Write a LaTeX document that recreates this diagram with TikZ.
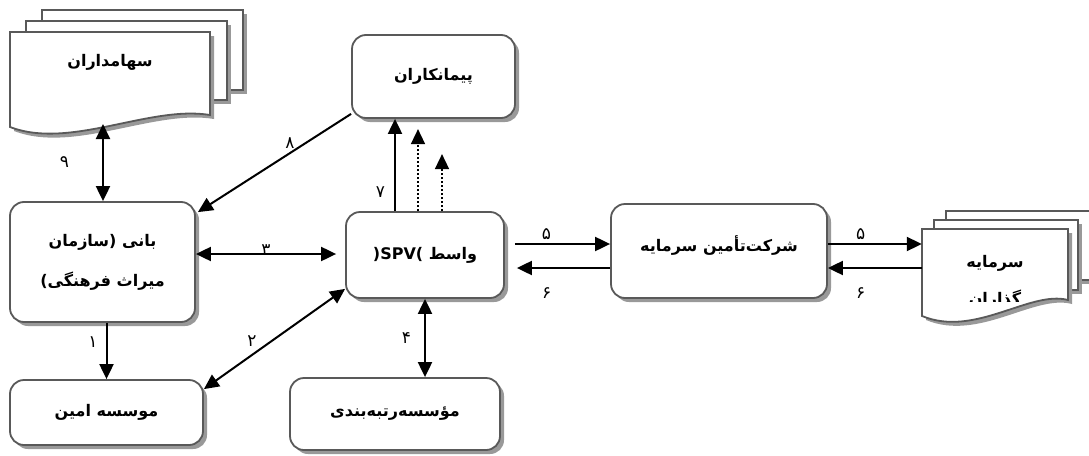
\documentclass[tikz,border=0pt]{standalone}
\usepackage{fontspec}
\newfontfamily\fa[Script=Arabic]{DejaVu Sans}
\TeXXeTstate=1
\usetikzlibrary{arrows.meta,positioning,calc,shadows}
\newcommand{\rtltext}[1]{\beginR #1\endR}

\begin{document}
\begin{tikzpicture}[
    x=1pt, y=-1pt,
    font=\fa,
    box/.style={draw=black!65, line width=1.8pt, rounded corners=14pt, fill=white,
      drop shadow={shadow xshift=4pt, shadow yshift=-4pt, fill=black!40, opacity=1},
      align=center, font=\fa\bfseries\fontsize{16}{40}\selectfont},
    page/.style={draw=black!65, line width=1.8pt, fill=white,
      drop shadow={shadow xshift=4pt, shadow yshift=-4pt, fill=black!40, opacity=1}},
    doc/.style={align=center, font=\fa\bfseries\fontsize{16}{37}\selectfont},
    arr/.style={-{Triangle[length=15pt,width=14pt]}, line width=2pt},
    darr/.style={{Triangle[length=15pt,width=14pt]}-{Triangle[length=15pt,width=14pt]}, line width=2pt},
    dotarr/.style={arr, dotted, line width=1.6pt},
    num/.style={font=\fa\fontsize{17}{18}\selectfont, inner sep=1pt}
  ]
  \useasboundingbox (0,0) rectangle (1089,455);

  % shareholders (stack of documents)
  \draw[page] (42,10) rectangle (243,90);
  \draw[page] (26,21) rectangle (227,100);
  \draw[page] (10,32) -- (210,32) -- (210,115) .. controls (150,105) and (70,150) .. (10,127) -- cycle;
  \node[doc, minimum width=200pt, minimum height=60pt] (share) at (110,62) {\rtltext{سهامداران}};
  \coordinate (sharebot) at (103,124);

  % investors (stack of documents)
  \draw[page] (946,211) rectangle (1100,280);
  \draw[page] (934,220) rectangle (1078,290);
  \draw[page] (922,229) -- (1068,229) -- (1068,300) .. controls (1030,290) and (975,338) .. (922,316) -- cycle;
  \begin{scope}
    \clip (922,229) rectangle (1068,301);
    \node[doc, minimum width=146pt] (inv) at (995,282) {\rtltext{سرمایه}\\\rtltext{گذاران}};
  \end{scope}

  % boxes
  \node[box, minimum width=185pt, minimum height=120pt] (bani) at (102.5,262) {\rtltext{بانی (سازمان}\\\rtltext{میراث فرهنگی)}};
  \node[box, minimum width=193pt, minimum height=65pt] (amin) at (106.5,412.5) {\rtltext{موسسه امین}};
  \node[box, minimum width=163pt, minimum height=83pt] (payman) at (433.5,76.5) {\rtltext{پیمانکاران}};
  \node[box, minimum width=158pt, minimum height=86pt] (spv) at (425,255) {\rtltext{واسط \beginL)SPV(\endL}};
  \node[box, minimum width=210pt, minimum height=72pt] (rating) at (395,414) {\rtltext{مؤسسه‌رتبه‌بندی}};
  \node[box, minimum width=216pt, minimum height=94pt, text depth=14pt] (tamin) at (719,251) {\rtltext{شرکت‌تأمین سرمایه}};

  % connectors
  \draw[darr] (sharebot) -- node[num, midway, left=32pt] (n9) {۹} (sharebot |- bani.north);
  \draw[arr] ([xshift=4pt]bani.south) -- node[num, pos=0.34, left=7pt] (n1) {۱} ([xshift=4pt]bani.south |- amin.north);
  \draw[arr] ([yshift=5pt]payman.south west) -- node[num, pos=0.4, above=3pt] (n8) {۸} ([xshift=2pt,yshift=-11pt]bani.north east);
  \draw[darr] ([yshift=8pt]bani.east) -- node[num, midway, yshift=4pt] (n3) {۳} ([xshift=-9pt,yshift=8pt]bani.east -| spv.west);
  \draw[darr] ([yshift=-10pt]amin.north east) -- node[num, pos=0.34, above=7pt] (n2) {۲} ([yshift=10pt]spv.south west);
  \draw[darr] (spv.south) -- node[num, midway, left=12pt] (n4) {۴} (spv.south |- rating.north);
  \draw[arr] ([xshift=-30pt]spv.north) -- node[num, pos=0.21, left=8pt] (n7) {۷} ([xshift=-30pt]spv.north |- payman.south);
  \draw[dotarr] ([xshift=-7pt]spv.north) -- ++(0,-82);
  \draw[dotarr] ([xshift=17pt]spv.north) -- ++(0,-57);
  \draw[arr] ([xshift=10pt,yshift=11pt]spv.east) -- node[num, pos=0.33, above=2pt] (n5a) {۵} ([yshift=11pt]spv.east -| tamin.west);
  \draw[arr] ([yshift=-13pt]spv.east -| tamin.west) -- node[num, pos=0.68, below=18pt] (n6a) {۶} ([xshift=12pt,yshift=-13pt]spv.east);
  \draw[arr] ([yshift=7pt]tamin.east) -- node[num, pos=0.35, above=2pt] (n5b) {۵} ([yshift=7pt]tamin.east -| inv.west);
  \draw[arr] ([yshift=-17pt]tamin.east -| inv.west) -- node[num, pos=0.65, below=18pt] (n6b) {۶} ([yshift=-17pt]tamin.east);
\end{tikzpicture}
\end{document}
